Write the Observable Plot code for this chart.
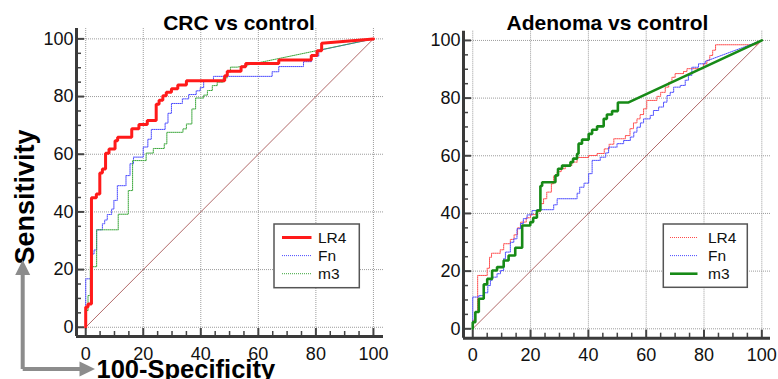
<!DOCTYPE html>
<html><head><meta charset="utf-8">
<script src="https://cdn.jsdelivr.net/npm/d3@7"></script>
<script src="https://cdn.jsdelivr.net/npm/@observablehq/plot@0.6"></script>
<style>
body{margin:0;background:#fff;}
#wrap{position:relative;width:778px;height:379px;overflow:hidden;font-family:"Liberation Sans",Arial,Helvetica,sans-serif;}
.panel{position:absolute;top:0;}
#overlay{position:absolute;left:0;top:0;pointer-events:none;}
</style></head><body>
<div id="wrap">
<div class="panel" id="left" style="left:0"></div>
<div class="panel" id="right" style="left:390px"></div>
<svg id="overlay" width="778" height="379" font-family="Liberation Sans, Arial, Helvetica, sans-serif"></svg>
</div>
<script>
// ---- data (100-Specificity, Sensitivity) ----
const titles = ["CRC vs control", "Adenoma vs control"];
const seriesNames = ["LR4", "Fn", "m3"];
const majorTicks = [0, 20, 40, 60, 80, 100];
const minorTicks = [5,10,15,25,30,35,45,50,55,65,70,75,85,90,95];
const diagonal = [[0,0],[100,100]];

const crcLR4 = [[0,0],[0,7],[0.8,7],[0.8,8.1],[2,8.1],[2,44.9],[3.7,44.9],[3.7,46.2],[4.9,46.2],[4.9,53.5],[5.8,53.5],[5.8,54.9],[6.9,54.9],[6.9,60.3],[8.1,60.3],[8.1,61.8],[10.2,61.8],[10.2,64.7],[11.1,64.7],[11.1,65.9],[16,65.9],[16,68.8],[18.5,68.8],[18.5,70.3],[21.4,70.3],[21.4,71.7],[24.5,71.7],[24.5,77.3],[25.5,77.3],[25.5,78.7],[26.8,78.7],[26.8,80.3],[28,80.3],[28,81.5],[29.8,81.5],[29.8,82.7],[32,82.7],[32,84],[35,84],[35,85.5],[48.3,85.5],[48.3,87.2],[49.2,87.2],[49.2,88.8],[54,88.8],[54,90.3],[55.6,90.3],[55.6,91.5],[67.1,91.5],[67.1,92.7],[78.4,92.7],[78.4,94.2],[80.4,94.2],[80.4,95.9],[82,95.9],[82,98.5],[100,100]];
const crcFn = [[0,0],[0,16.8],[1.7,16.8],[1.7,25.4],[2.9,25.4],[2.9,26.8],[3.8,26.8],[3.8,33.8],[5.8,33.8],[5.8,35.9],[6.6,35.9],[6.6,37.2],[7.5,37.2],[7.5,39.1],[9,39.1],[9,41],[9.8,41],[9.8,44],[11,44],[11,49.1],[14,49.1],[14,52.6],[15.4,52.6],[15.4,56.7],[16.6,56.7],[16.6,59],[20,59],[20,62.5],[21.6,62.5],[21.6,65.2],[22.8,65.2],[22.8,68.6],[27.6,68.6],[27.6,70.8],[28.6,70.8],[28.6,74.2],[29.8,74.2],[29.8,77.6],[33.6,77.6],[33.6,79.2],[35.8,79.2],[35.8,80.7],[38.4,80.7],[38.4,82],[39.8,82],[39.8,83.1],[41,83.1],[41,85.5],[44.4,85.5],[44.4,87],[64.8,87],[64.8,88.6],[67.1,88.6],[67.1,90.4],[75.7,90.4],[75.7,92.1],[78.5,92.1],[78.5,94],[81,94],[81,96],[100,100]];
const crcM3 = [[0,0],[0,5.8],[0.8,5.8],[0.8,11],[1.6,11],[1.6,21],[3.8,21],[3.8,33.8],[11.3,33.8],[11.3,39.2],[14.8,39.2],[14.8,47.4],[16.3,47.4],[16.3,57.8],[21,57.8],[21,60.4],[23.5,60.4],[23.5,62],[27.3,62],[27.3,63.6],[28.2,63.6],[28.2,67.6],[33.8,67.6],[33.8,68.8],[35,68.8],[35,70.5],[36.9,70.5],[36.9,75.7],[38.2,75.7],[38.2,79.5],[41,79.5],[41,80.5],[42.3,80.5],[42.3,82.1],[44,82.1],[44,83.8],[45.7,83.8],[45.7,85],[47.8,85],[47.8,86.5],[49.2,86.5],[49.2,88.5],[50.3,88.5],[50.3,90.2],[52.7,90.2],[100,100]];

const adeLR4 = [[0,0],[0,3],[0.8,3],[0.8,6],[1.7,6],[1.7,18.5],[5,18.5],[5,21],[5.8,21],[5.8,24.8],[6.5,24.8],[6.5,26.2],[9.5,26.2],[9.5,27.4],[10.7,27.4],[10.7,29.5],[13,29.5],[13,31],[14.3,31],[14.3,32.6],[15.5,32.6],[15.5,35],[16.6,35],[16.6,37],[18.5,37],[18.5,38.5],[20,38.5],[20,39.6],[22.2,39.6],[22.2,40.6],[23.4,40.6],[23.4,43.4],[24.5,43.4],[24.5,45.1],[25.6,45.1],[25.6,47.4],[27.2,47.4],[27.2,50.3],[28,50.3],[28,53],[29.2,53],[29.2,54.5],[30.6,54.5],[30.6,55.5],[32,55.5],[32,56.6],[34.3,56.6],[34.3,57.8],[36.1,57.8],[36.1,59.4],[40.1,59.4],[40.1,60.1],[43,60.1],[43,60.8],[45.5,60.8],[45.5,62.4],[47.2,62.4],[47.2,64],[48.8,64],[48.8,65.9],[52.8,65.9],[52.8,67],[54.4,67],[54.4,69.4],[55.6,69.4],[55.6,71.4],[56.8,71.4],[56.8,72.8],[57.9,72.8],[57.9,74.3],[59.1,74.3],[59.1,76.3],[60.2,76.3],[60.2,79.2],[63.7,79.2],[63.7,80.6],[65,80.6],[65,82],[66.6,82],[66.6,83.8],[67.8,83.8],[67.8,85.5],[68.9,85.5],[68.9,87.2],[70,87.2],[70,88.5],[72.9,88.5],[72.9,89.2],[74.1,89.2],[74.1,90.2],[79.8,90.2],[79.8,91.9],[81,91.9],[81,93.1],[82,93.1],[82,94.8],[83,94.8],[83,96.6],[84,96.6],[84,98.5],[98,98.5],[100,100]];
const adeFn = [[0,0],[0,11],[2.1,11],[2.1,11.5],[3.8,11.5],[3.8,12.5],[5.2,12.5],[5.2,15],[6.1,15],[6.1,16.8],[6.7,16.8],[6.7,17.9],[8.4,17.9],[8.4,19.1],[9.6,19.1],[9.6,20.2],[10.7,20.2],[10.7,24.3],[11.3,24.3],[11.3,26.6],[13,26.6],[13,30],[14.2,30],[14.2,31.2],[15.3,31.2],[15.3,34.7],[16.5,34.7],[16.5,36.5],[17.5,36.5],[17.5,38.2],[18.8,38.2],[18.8,39.5],[20.5,39.5],[20.5,41],[22.2,41],[22.2,41.3],[28,41.3],[28,43],[29.2,43],[29.2,45.1],[36.1,45.1],[36.1,47],[37,47],[37,49.1],[38.5,49.1],[38.5,50.5],[40.1,50.5],[40.1,53.8],[41.3,53.8],[41.3,58.4],[44.1,58.4],[44.1,59.5],[46,59.5],[46,61],[47,61],[47,63],[49.9,63],[49.9,64.2],[52.2,64.2],[52.2,65.3],[54.5,65.3],[54.5,66.5],[55.7,66.5],[55.7,68.2],[56.8,68.2],[56.8,69.9],[58,69.9],[58,71.4],[59.1,71.4],[59.1,72.8],[61.4,72.8],[61.4,74],[62.5,74],[62.5,75.7],[64.3,75.7],[64.3,76.9],[66,76.9],[66,78.6],[67.2,78.6],[67.2,80.9],[68.3,80.9],[68.3,82],[69.5,82],[69.5,83.8],[71.8,83.8],[71.8,84.4],[73.5,84.4],[73.5,86.2],[74.6,86.2],[74.6,87.9],[75.8,87.9],[75.8,90.7],[78.1,90.7],[78.1,91.9],[80.4,91.9],[80.4,92.7],[100,100]];
const adeM3 = [[0,0],[0,2.3],[0.9,2.3],[0.9,5.8],[2.1,5.8],[2.1,10.4],[3.8,10.4],[3.8,15.4],[5,15.4],[5,17.3],[6.7,17.3],[6.7,20.2],[8.4,20.2],[8.4,21.4],[10.7,21.4],[10.7,23.7],[12.4,23.7],[12.4,25.4],[14.7,25.4],[14.7,28.1],[17.1,28.1],[17.1,35.8],[19.9,35.8],[19.9,37],[20.9,37],[20.9,38.5],[22.2,38.5],[22.2,41],[23.4,41],[23.4,49.5],[24,49.5],[24,50.8],[28.6,50.8],[28.6,53.2],[29.5,53.2],[29.5,55.5],[30.9,55.5],[30.9,56.6],[33.8,56.6],[33.8,57.8],[34.7,57.8],[34.7,59],[36.1,59],[36.1,60.7],[36.6,60.7],[36.6,64.2],[37.8,64.2],[37.8,65.6],[40.1,65.6],[40.1,67.6],[41.3,67.6],[41.3,69],[43,69],[43,70.2],[45.3,70.2],[45.3,72.8],[46.4,72.8],[46.4,74.3],[48.2,74.3],[48.2,75.5],[50.2,75.5],[50.2,78.5],[53.9,78.5],[100,100]];

// ---- drawing ----
const FONT = "Liberation Sans, Arial, Helvetica, sans-serif";
const H = 379;
const pts = a => a.map(([x, y]) => ({x, y}));

function panel(cfg) {
  const {width, marginLeft, marginRight, marginTop, marginBottom, xDomain, yDomain, lines} = cfg;
  const frameW = width - marginLeft - marginRight;
  const frameH = H - marginTop - marginBottom;
  return Plot.plot({
    width, height: H, marginLeft, marginRight, marginTop, marginBottom,
    style: {fontSize: "18px", fontFamily: FONT, color: "#111", background: "transparent", overflow: "visible"},
    x: {domain: xDomain, ticks: majorTicks, tickSize: 0, tickPadding: 10.5, label: null},
    y: {domain: yDomain, ticks: majorTicks, tickSize: 0, tickPadding: 3, label: null},
    marks: [
      Plot.ruleX(majorTicks, {stroke: "#9c9c9c", strokeWidth: 1, strokeDasharray: "1,1"}),
      Plot.ruleY(majorTicks, {stroke: "#9c9c9c", strokeWidth: 1, strokeDasharray: "1,1"}),
      Plot.line(pts(diagonal), {x: "x", y: "y", stroke: "#a85858", strokeWidth: 0.9}),
      ...lines.map(l => Plot.line(pts(l.data), {x: "x", y: "y", stroke: l.stroke, strokeWidth: l.width, strokeDasharray: l.dash, strokeLinejoin: "miter"})),
      Plot.tickY(minorTicks, {insetRight: frameW - 5, stroke: "#444", strokeWidth: 1.5}),
      Plot.tickY(majorTicks, {insetRight: frameW - 8, stroke: "#444", strokeWidth: 2}),
      Plot.tickX(minorTicks, {insetTop: frameH - 5, stroke: "#444", strokeWidth: 1.5}),
      Plot.tickX(majorTicks, {insetTop: frameH - 8, stroke: "#444", strokeWidth: 2}),
      Plot.ruleX([xDomain[0]], {stroke: "#3a3a3a", strokeWidth: 3}),
      Plot.ruleY([yDomain[0]], {stroke: "#3a3a3a", strokeWidth: 3})
    ]
  });
}

const RED = "#ff1a1a", BLUE = "#4a4aff", GREEN = "#3aa63a", DKGREEN = "#178a17", LTRED = "#ff4a4a";

document.getElementById("left").append(panel({
  width: 390, marginLeft: 76, marginRight: 7, marginTop: 28, marginBottom: 43,
  xDomain: [-3.2, 103.5], yDomain: [-3.2, 103.6],
  lines: [
    {data: crcFn, stroke: BLUE, width: 1, dash: "1,1"},
    {data: crcM3, stroke: GREEN, width: 1, dash: "1,1"},
    {data: crcLR4, stroke: RED, width: 3, dash: null}
  ]
}));
document.getElementById("right").append(panel({
  width: 388, marginLeft: 73, marginRight: 8, marginTop: 30.7, marginBottom: 41.3,
  xDomain: [-3.2, 103], yDomain: [-3.26, 103.2],
  lines: [
    {data: adeLR4, stroke: LTRED, width: 1, dash: "1,1"},
    {data: adeFn, stroke: BLUE, width: 1, dash: "1,1"},
    {data: adeM3, stroke: DKGREEN, width: 2.6, dash: null}
  ]
}));

// ---- overlay: titles, axis names, arrows, legends ----
const ov = d3.select("#overlay");
ov.append("text").attr("x", 239).attr("y", 30).attr("text-anchor", "middle")
  .attr("font-size", 21).attr("font-weight", "bold").attr("fill", "#000").text(titles[0]);
ov.append("text").attr("x", 607.5).attr("y", 30).attr("text-anchor", "middle")
  .attr("font-size", 21).attr("font-weight", "bold").attr("fill", "#000").text(titles[1]);
ov.append("text").attr("transform", "translate(33.5,197) rotate(-90)").attr("text-anchor", "middle")
  .attr("font-size", 27).attr("font-weight", "bold").attr("fill", "#000").text("Sensitivity");
ov.append("text").attr("x", 96.5).attr("y", 378).attr("font-size", 25.5).attr("font-weight", "bold")
  .attr("fill", "#000").text("100-Specificity");
// arrows
const AR = "#8c8c8c";
ov.append("path").attr("d", "M22.7,369 V273 M22.7,369 H80").attr("stroke", AR).attr("stroke-width", 4).attr("fill", "none");
ov.append("path").attr("d", "M22.7,260 L15.2,275 L30.2,275 Z").attr("fill", AR);
ov.append("path").attr("d", "M95,369 L79.5,361.5 L79.5,376.5 Z").attr("fill", AR);

function legend(x, y, w, h, lx1, lx2, tx, items) {
  ov.append("rect").attr("x", x).attr("y", y).attr("width", w).attr("height", h)
    .attr("fill", "#fff").attr("stroke", "#555").attr("stroke-width", 1.5);
  items.forEach((it, i) => {
    const cy = y + 13.5 + i * 18.1;
    ov.append("line").attr("x1", lx1).attr("x2", lx2).attr("y1", cy).attr("y2", cy)
      .attr("stroke", it.stroke).attr("stroke-width", it.width).attr("stroke-dasharray", it.dash);
    ov.append("text").attr("x", tx).attr("y", cy + 5.6).attr("font-size", 15.5).attr("fill", "#111").text(it.name);
  });
}
legend(274, 224, 85.3, 63.7, 282, 311.5, 318, [
  {name: seriesNames[0], stroke: RED, width: 3, dash: null},
  {name: seriesNames[1], stroke: BLUE, width: 1, dash: "1,1"},
  {name: seriesNames[2], stroke: GREEN, width: 1, dash: "1,1"}
]);
legend(663.3, 224, 84, 63.3, 670, 697.5, 708, [
  {name: seriesNames[0], stroke: LTRED, width: 1, dash: "1,1"},
  {name: seriesNames[1], stroke: BLUE, width: 1, dash: "1,1"},
  {name: seriesNames[2], stroke: DKGREEN, width: 2.6, dash: null}
]);
</script>
</body></html>
